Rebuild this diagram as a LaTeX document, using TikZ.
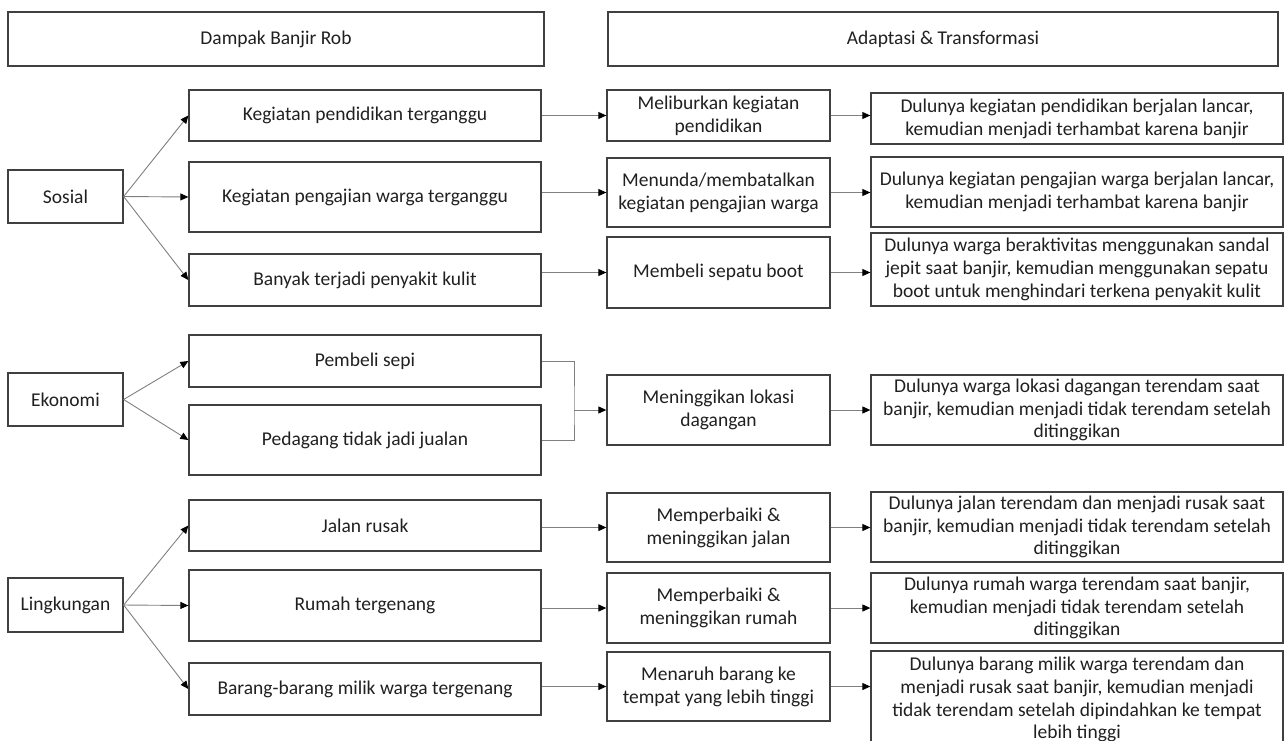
\documentclass[tikz,border=0pt]{standalone}
\usepackage{fontspec}
\setmainfont{Carlito}
\usetikzlibrary{arrows.meta}
\definecolor{boxgray}{HTML}{404040}
\definecolor{textgray}{HTML}{202020}
\definecolor{linegray}{HTML}{808080}
\newcommand{\boxfont}{\fontsize{19.5}{22.8}\selectfont}
\tikzset{
  box/.style={draw=boxgray, rectangle, align=center, inner xsep=2pt, inner ysep=1pt, line width=1.3pt, font=\boxfont, text=textgray},
  headbox/.style={box, minimum height=54pt},
  catbox/.style={box, minimum width=115pt},
  effbox/.style={box, minimum width=352pt},
  adabox/.style={box, minimum width=223pt},
  chgbox/.style={box, minimum width=412pt},
  arrow/.style={-{Triangle[length=8pt, width=7pt, black]}, line width=0.9pt, draw=linegray},
  line/.style={line width=0.9pt, draw=linegray}
}

\begin{document}
\begin{tikzpicture}[x=1pt, y=-1pt]
\useasboundingbox (0,0) rectangle (1285,740);
\clip (0,0) rectangle (1285,740);

\node[headbox, minimum width=536pt] (h1) at (276,39) {Dampak Banjir Rob};
\node[headbox, minimum width=670pt] (h2) at (943,39) {Adaptasi \& Transformasi};

\node[catbox, minimum height=53pt] (sos) at (65.5,196.5) {Sosial};
\node[catbox, minimum height=53pt] (eko) at (65.5,399.5) {Ekonomi};
\node[catbox, minimum height=54pt] (ling) at (65.5,605) {Lingkungan};

\node[effbox, minimum height=51pt] (e1) at (365,115.5) {Kegiatan pendidikan terganggu};
\node[effbox, minimum height=70pt] (e2) at (365,197) {Kegiatan pengajian warga terganggu};
\node[effbox, minimum height=52pt] (e3) at (365,280) {Banyak terjadi penyakit kulit};
\node[effbox, minimum height=52pt] (e4) at (365,361) {Pembeli sepi};
\node[effbox, minimum height=70pt] (e5) at (365,440) {Pedagang tidak jadi jualan};
\node[effbox, minimum height=51pt] (e6) at (365,525.5) {Jalan rusak};
\node[effbox, minimum height=71pt] (e7) at (365,605.5) {Rumah tergenang};
\node[effbox, minimum height=52pt] (e8) at (365,689) {Barang-barang milik warga tergenang};

\node[adabox, minimum height=51pt] (a1) at (718.5,115.5) {Meliburkan kegiatan\\pendidikan};
\node[adabox, minimum height=69pt] (a2) at (718.5,192.5) {Menunda/membatalkan\\kegiatan pengajian warga};
\node[adabox, minimum height=71pt] (a3) at (718.5,272.5) {Membeli sepatu boot};
\node[adabox, minimum height=70pt] (a4) at (718.5,410) {Meninggikan lokasi\\dagangan};
\node[adabox, minimum height=69pt] (a5) at (718.5,527.5) {Memperbaiki \&\\meninggikan jalan};
\node[adabox, minimum height=70pt] (a6) at (718.5,608) {Memperbaiki \&\\meninggikan rumah};
\node[adabox, minimum height=69pt] (a7) at (718.5,686.5) {Menaruh barang ke\\tempat yang lebih tinggi};

\node[chgbox, minimum height=51pt] (c1) at (1077,118.5) {Dulunya kegiatan pendidikan berjalan lancar,\\kemudian menjadi terhambat karena banjir};
\node[chgbox, minimum height=70pt] (c2) at (1077,192) {Dulunya kegiatan pengajian warga berjalan lancar,\\kemudian menjadi terhambat karena banjir};
\node[chgbox, minimum height=73pt] (c3) at (1077,269.5) {Dulunya warga beraktivitas menggunakan sandal\\jepit saat banjir, kemudian menggunakan sepatu\\boot untuk menghindari terkena penyakit kulit};
\node[chgbox, minimum height=70pt] (c4) at (1077,410) {Dulunya warga lokasi dagangan terendam saat\\banjir, kemudian menjadi tidak terendam setelah\\ditinggikan};
\node[chgbox, minimum height=70pt] (c5) at (1077,527) {Dulunya jalan terendam dan menjadi rusak saat\\banjir, kemudian menjadi tidak terendam setelah\\ditinggikan};
\node[chgbox, minimum height=70pt] (c6) at (1077,608) {Dulunya rumah warga terendam saat banjir,\\kemudian menjadi tidak terendam setelah\\ditinggikan};
\node[chgbox, minimum height=97pt] (c7) at (1077,699.5) {Dulunya barang milik warga terendam dan\\menjadi rusak saat banjir, kemudian menjadi\\tidak terendam setelah dipindahkan ke tempat\\lebih tinggi};

\foreach \a/\b in {sos/e1, sos/e2, sos/e3, eko/e4, eko/e5, ling/e6, ling/e7, ling/e8}
  \draw[arrow] (\a.east) -- (\b.west);

\foreach \e/\a in {e1/a1, e2/a2, e3/a3, e6/a5, e7/a6, e8/a7}
  \draw[arrow] (\a.west -| \e.east) -- (\a.west);

\coordinate (join) at (574,410);
\draw[line] (e4.east) -| (join) |- (e5.east);
\draw[arrow] (a4.west -| join) -- (a4.west);

\foreach \a/\c in {a1/c1, a2/c2, a3/c3, a4/c4, a5/c5, a6/c6, a7/c7}
  \draw[arrow] (\a.east) -- (\a.east -| \c.west);

\end{tikzpicture}
\end{document}
